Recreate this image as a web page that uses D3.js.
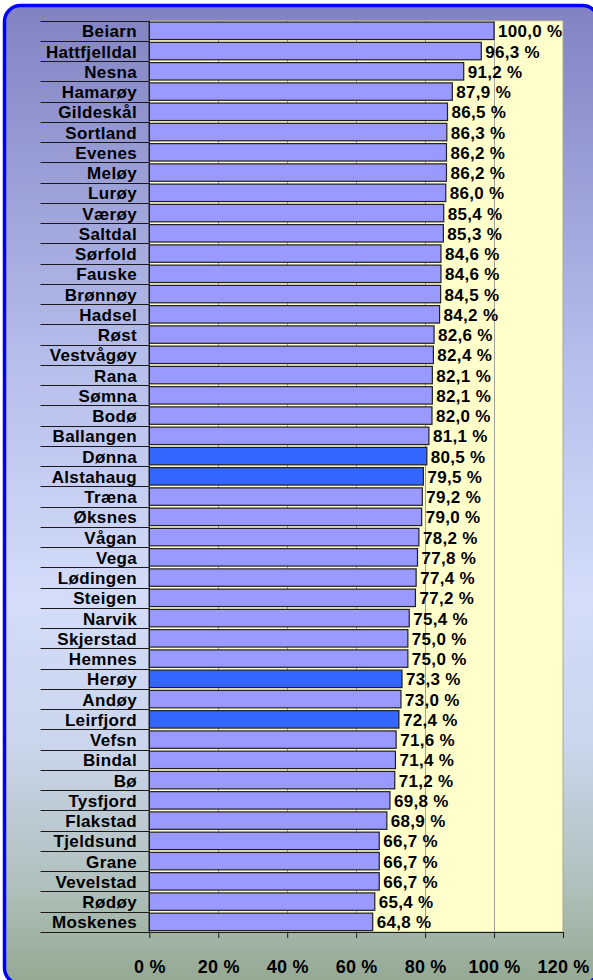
<!DOCTYPE html>
<html>
<head>
<meta charset="utf-8">
<script src="https://cdn.jsdelivr.net/npm/d3@7"></script>
<style>
	body { margin: 0; background: #ffffff; }
	text { font-family: "Liberation Sans", Arial, sans-serif; font-weight: bold; fill: #000; }
</style>
</head>
<body>
<div id="viz"></div>
<script>

//data
let municipalities = ['Beiarn', 'Hattfjelldal', 'Nesna', 'Hamarøy', 'Gildeskål', 'Sortland', 'Evenes', 'Meløy', 'Lurøy', 'Værøy',
	'Saltdal', 'Sørfold', 'Fauske', 'Brønnøy', 'Hadsel', 'Røst', 'Vestvågøy', 'Rana', 'Sømna', 'Bodø',
	'Ballangen', 'Dønna', 'Alstahaug', 'Træna', 'Øksnes', 'Vågan', 'Vega', 'Lødingen', 'Steigen', 'Narvik',
	'Skjerstad', 'Hemnes', 'Herøy', 'Andøy', 'Leirfjord', 'Vefsn', 'Bindal', 'Bø', 'Tysfjord', 'Flakstad',
	'Tjeldsund', 'Grane', 'Vevelstad', 'Rødøy', 'Moskenes']

let percent = [100.0, 96.3, 91.2, 87.9, 86.5, 86.3, 86.2, 86.2, 86.0, 85.4,
	85.3, 84.6, 84.6, 84.5, 84.2, 82.6, 82.4, 82.1, 82.1, 82.0,
	81.1, 80.5, 79.5, 79.2, 79.0, 78.2, 77.8, 77.4, 77.2, 75.4,
	75.0, 75.0, 73.3, 73.0, 72.4, 71.6, 71.4, 71.2, 69.8, 68.9,
	66.7, 66.7, 66.7, 65.4, 64.8]

let highlighted = ['Dønna', 'Alstahaug', 'Herøy', 'Leirfjord']

let tickValues = [0, 20, 40, 60, 80, 100, 120]

let width = 593
let height = 980

let svg = d3.select('#viz')
			.append('svg')
			.attr('width', width)
			.attr('height', height)

//background gradient
let defs = svg.append('defs')
let grad = defs.append('linearGradient')
				.attr('id', 'bg')
				.attr('x1', 0).attr('y1', 0)
				.attr('x2', 0).attr('y2', 1)
let stops = [[0, '#8282c3'], [0.35, '#b4bcea'], [0.6, '#d4dcf9'], [0.75, '#ccd6ee'], [0.9, '#b0c0bc'], [1, '#94a892']]
grad.selectAll('stop')
	.data(stops)
	.enter()
	.append('stop')
	.attr('offset', d => d[0])
	.attr('stop-color', d => d[1])

//rounded frame, right and bottom edges fall just outside the picture
svg.append('rect')
	.attr('x', 4.5)
	.attr('y', 5.5)
	.attr('width', 594)
	.attr('height', 978.5)
	.attr('rx', 16)
	.attr('fill', 'url(#bg)')
	.attr('stroke', '#0000ff')
	.attr('stroke-width', 3.5)

//scales
let x = d3.scaleLinear()
			.domain([0, 120])
			.range([149.3, 563])

let plotTop = 20.7
let plotBottom = 932

let y = d3.scaleBand()
			.domain(municipalities)
			.range([plotTop, plotBottom])
			.paddingInner(0.14)
			.paddingOuter(0.07)

//plot area
svg.append('rect')
	.attr('x', x(0))
	.attr('y', plotTop)
	.attr('width', x(120) - x(0))
	.attr('height', plotBottom - plotTop)
	.attr('fill', '#ffffcc')
	.attr('stroke', '#a8a890')
	.attr('stroke-width', 1)

//vertical gridlines
svg.append('g')
	.selectAll('line')
	.data(tickValues.slice(1, -1))
	.enter()
	.append('line')
	.attr('x1', d => Math.round(x(d)) + 0.5)
	.attr('x2', d => Math.round(x(d)) + 0.5)
	.attr('y1', plotTop)
	.attr('y2', plotBottom)
	.attr('stroke', '#a0a0a0')
	.attr('stroke-width', 1)

//lines between category labels
let boundaries = d3.range(municipalities.length).map(i => plotTop + i * (plotBottom - plotTop) / municipalities.length)
svg.append('g')
	.selectAll('line')
	.data(boundaries)
	.enter()
	.append('line')
	.attr('x1', 40.5)
	.attr('x2', x(0))
	.attr('y1', d => Math.round(d) + 0.5)
	.attr('y2', d => Math.round(d) + 0.5)
	.attr('stroke', '#1a1a1a')
	.attr('stroke-width', 1)

//bars
svg.append('g')
	.selectAll('rect')
	.data(municipalities)
	.enter()
	.append('rect')
	.attr('x', x(0))
	.attr('y', d => y(d))
	.attr('width', (d, i) => x(percent[i]) - x(0))
	.attr('height', y.bandwidth())
	.attr('fill', d => highlighted.includes(d) ? '#3366ff' : '#9999ff')
	.attr('stroke', '#202020')
	.attr('stroke-width', 1.2)

//value labels
svg.append('g')
	.selectAll('text')
	.data(municipalities)
	.enter()
	.append('text')
	.attr('x', (d, i) => x(percent[i]) + 4)
	.attr('y', d => y(d) + y.bandwidth() / 2)
	.attr('dy', '0.38em')
	.style('font-size', '17px')
	.style('letter-spacing', '0.3px')
	.text((d, i) => d3.format('.1f')(percent[i]).replace('.', ',') + ' %')

//category labels
svg.append('g')
	.selectAll('text')
	.data(municipalities)
	.enter()
	.append('text')
	.attr('x', 137)
	.attr('y', d => y(d) + y.bandwidth() / 2)
	.attr('dy', '0.38em')
	.attr('text-anchor', 'end')
	.style('font-size', '17px')
	.style('letter-spacing', '0.35px')
	.text(d => d)

//left axis line
svg.append('line')
	.attr('x1', x(0))
	.attr('x2', x(0))
	.attr('y1', plotTop)
	.attr('y2', plotBottom)
	.attr('stroke', '#1a1a1a')

//bottom axis
let axis = svg.append('g')
			.attr('transform', `translate(0, ${plotBottom})`)
			.call(d3.axisBottom(x)
					.tickValues(tickValues)
					.tickSize(6)
					.tickSizeOuter(0)
					.tickPadding(22)
					.tickFormat(d => d + ' %'))

axis.select('.domain').remove()
axis.selectAll('.tick line').attr('stroke', '#1a1a1a')
axis.selectAll('.tick text')
	.style('font-size', '18px')
	.style('letter-spacing', '0.2px')
	.attr('fill', '#000')

svg.append('line')
	.attr('x1', 40.5)
	.attr('x2', x(120))
	.attr('y1', plotBottom + 0.5)
	.attr('y2', plotBottom + 0.5)
	.attr('stroke', '#1a1a1a')

</script>
</body>
</html>
